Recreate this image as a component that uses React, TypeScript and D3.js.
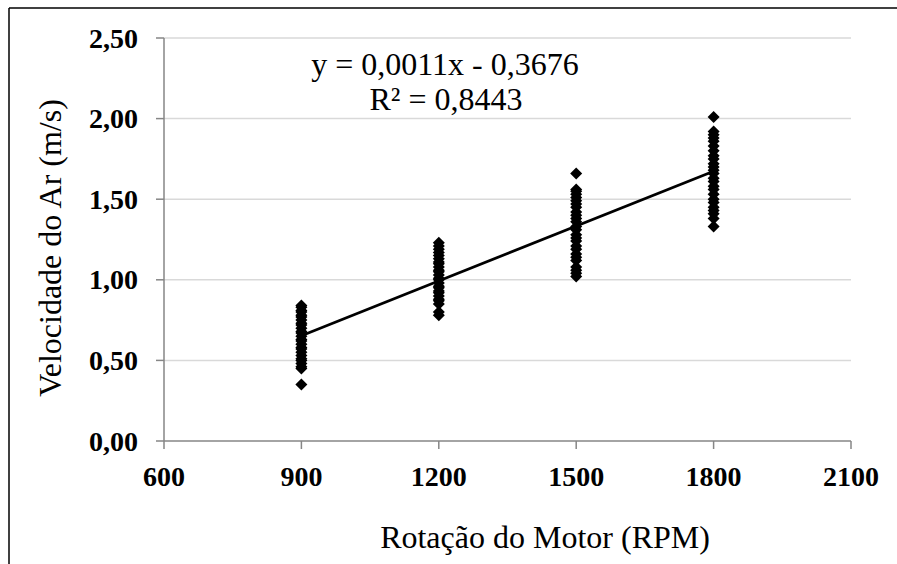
import React from "react";
import * as d3 from "d3";

// Air velocity measured at each motor speed
const rpm900 = [0.35, 0.45, 0.46, 0.48, 0.50, 0.51, 0.53, 0.55, 0.57, 0.58, 0.60, 0.62, 0.63, 0.65, 0.67, 0.68, 0.70, 0.72, 0.73, 0.75, 0.77, 0.78, 0.80, 0.81, 0.83, 0.84];
const rpm1200 = [0.78, 0.80, 0.85, 0.87, 0.88, 0.90, 0.92, 0.93, 0.95, 0.96, 0.98, 1.00, 1.01, 1.03, 1.05, 1.06, 1.08, 1.10, 1.11, 1.13, 1.15, 1.17, 1.19, 1.21, 1.23];
const rpm1500 = [1.02, 1.04, 1.06, 1.08, 1.12, 1.14, 1.16, 1.19, 1.21, 1.24, 1.26, 1.28, 1.31, 1.33, 1.36, 1.38, 1.40, 1.42, 1.45, 1.47, 1.49, 1.51, 1.53, 1.55, 1.56, 1.66];
const rpm1800 = [1.33, 1.38, 1.41, 1.43, 1.45, 1.48, 1.50, 1.53, 1.56, 1.58, 1.61, 1.63, 1.66, 1.68, 1.70, 1.72, 1.75, 1.77, 1.80, 1.83, 1.86, 1.88, 1.90, 1.92, 2.01];

const speeds = [900, 1200, 1500, 1800];
const groups = [rpm900, rpm1200, rpm1500, rpm1800];

const xTicks = [600, 900, 1200, 1500, 1800, 2100];
const yTicks = [0, 0.5, 1.0, 1.5, 2.0, 2.5];

// Linear trend line
const slope = 0.001134;
const intercept = -0.3676;
const rSquared = 0.8443;

const W = 897;
const H = 564;
const plot = { left: 164, right: 851, top: 38, bottom: 441 };

const fmt = (v: number, d: number) => v.toFixed(d).replace(".", ",");

const SERIF = '"Liberation Serif", "Times New Roman", Times, "DejaVu Serif", serif';

export default function App() {
  const x = d3.scaleLinear().domain([600, 2100]).range([plot.left, plot.right]);
  const y = d3.scaleLinear().domain([0, 2.5]).range([plot.bottom, plot.top]);

  const points = speeds.flatMap((s, i) => groups[i].map((v) => ({ s, v })));
  const diamond = d3.symbol().type(d3.symbolSquare).size(72)()!;

  const trend = d3
    .line<number>()
    .x((d) => x(d))
    .y((d) => y(slope * d + intercept))([900, 1800]);

  const axisColor = "#868686";
  const txt = { fontFamily: SERIF };

  const eqText = `y = ${fmt(slope, 4)}x - ${fmt(Math.abs(intercept), 4)}`;

  return (
    <svg
      width={W}
      height={H}
      style={{ position: "absolute", left: 0, top: 0, background: "#fff", fontFamily: SERIF }}
    >
      <rect x={0} y={0} width={W} height={H} fill="#fff" />
      {/* outer frame */}
      <line x1={9} x2={W} y1={8} y2={8} stroke="#000" strokeWidth={1.5} />
      <line x1={9} x2={9} y1={8} y2={H} stroke="#000" strokeWidth={1.5} />

      {/* horizontal gridlines */}
      {yTicks.filter((t) => t > 0).map((t) => (
        <line key={"g" + t} x1={plot.left} x2={plot.right} y1={y(t)} y2={y(t)} stroke="#d9d9d9" strokeWidth={1.5} />
      ))}

      {/* y axis */}
      <line x1={plot.left} x2={plot.left} y1={plot.top} y2={plot.bottom} stroke={axisColor} strokeWidth={1.5} />
      {yTicks.map((t) => (
        <g key={"y" + t}>
          <line x1={plot.left - 8} x2={plot.left} y1={y(t)} y2={y(t)} stroke={axisColor} strokeWidth={1.5} />
          <text x={138} y={y(t)} dy="0.34em" textAnchor="end" fontSize={28} fontWeight="bold" style={txt}>
            {fmt(t, 2)}
          </text>
        </g>
      ))}

      {/* x axis */}
      <line x1={plot.left} x2={plot.right} y1={plot.bottom} y2={plot.bottom} stroke={axisColor} strokeWidth={1.5} />
      {xTicks.map((t) => (
        <g key={"x" + t}>
          <line x1={x(t)} x2={x(t)} y1={plot.bottom} y2={plot.bottom + 8} stroke={axisColor} strokeWidth={1.5} />
          <text x={x(t)} y={486} textAnchor="middle" fontSize={28} fontWeight="bold" style={txt}>
            {t}
          </text>
        </g>
      ))}

      {/* measurements */}
      {points.map((p, i) => (
        <path key={i} d={diamond} transform={`translate(${x(p.s)},${y(p.v)}) rotate(45)`} fill="#000" />
      ))}

      {/* trend line */}
      <path d={trend!} fill="none" stroke="#000" strokeWidth={2.75} />

      {/* trend equation */}
      <text x={445} y={75} textAnchor="middle" fontSize={32} style={txt}>
        {eqText}
      </text>
      <text x={446} y={110} textAnchor="middle" fontSize={32} style={txt}>
        {`R² = ${fmt(rSquared, 4)}`}
      </text>

      {/* axis titles */}
      <text transform={`translate(61,248) rotate(-90)`} textAnchor="middle" fontSize={32} style={txt}>
        Velocidade do Ar (m/s)
      </text>
      <text x={545} y={548} textAnchor="middle" fontSize={32} style={txt}>
        Rotação do Motor (RPM)
      </text>
    </svg>
  );
}
